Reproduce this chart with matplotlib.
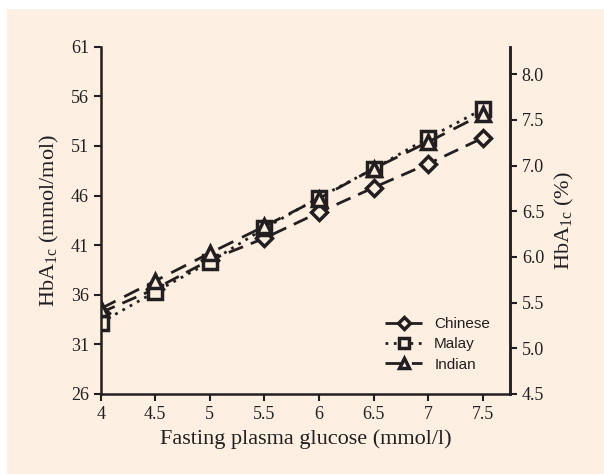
import numpy as np
import matplotlib.pyplot as plt
from matplotlib.patches import Rectangle

glucose = [4, 4.5, 5, 5.5, 6, 6.5, 7, 7.5]
chinese = [34.2, 36.6, 39.5, 41.7, 44.3, 46.8, 49.2, 51.8]
malay = [33.2, 36.3, 39.3, 42.7, 45.8, 48.7, 51.8, 54.7]
indian = [34.6, 37.4, 40.2, 42.9, 45.7, 48.7, 51.4, 54.2]
left_ticks = [26, 31, 36, 41, 46, 51, 56, 61]
right_ticks = [4.5, 5.0, 5.5, 6.0, 6.5, 7.0, 7.5, 8.0]

bg = '#fdf0e2'
ink = '#231f20'
serif = 'Liberation Serif'

fig = plt.figure(figsize=(6.04, 4.74), dpi=100, facecolor='white')
fig.patches.append(Rectangle((7/604, 0), 1, 1 - 9/474, transform=fig.transFigure,
                             facecolor=bg, edgecolor='none', zorder=-1))
ax = fig.add_axes([100.7/604, 1 - 394/474, (510-100.7)/604, (394-46.7)/474])
ax.set_facecolor('none')

common = dict(markeredgewidth=2.5, markerfacecolor=bg, markeredgecolor=ink, color=ink, lw=2)
ax.plot(glucose, chinese, marker='D', markersize=8, dashes=(5.5, 3), label='Chinese', **common)
ax.plot(glucose, malay, marker='s', markersize=10.5, dashes=(1, 2), label='Malay', **common)
ax.plot(glucose, indian, marker='^', markersize=9.5, dashes=(6, 3.5), label='Indian', **common)

ax.set_xlim(4, 7.75)
ax.set_ylim(26, 61)
ax.set_xticks(glucose)
ax.set_xticklabels(['4', '4.5', '5', '5.5', '6', '6.5', '7', '7.5'])
ax.set_yticks(left_ticks)
ax.spines['top'].set_visible(False)
for s in ['left', 'bottom', 'right']:
    ax.spines[s].set_linewidth(1.8)
    ax.spines[s].set_color(ink)
ax.tick_params(direction='out', length=5, width=1.5, color=ink, labelsize=13, labelcolor=ink)
for lab in ax.get_xticklabels() + ax.get_yticklabels():
    lab.set_family(serif)
ax.set_xlabel('Fasting plasma glucose (mmol/l)', family=serif, fontsize=16, color=ink, labelpad=5)
ax.set_ylabel('HbA$_{\\mathregular{1c}}$ (mmol/mol)', family=serif, fontsize=16, color=ink, labelpad=7)

ax2 = ax.twinx()
ax2.set_ylim(4.5, 8.30)
ax2.set_yticks(right_ticks)
ax2.set_yticklabels(['%.1f' % t for t in right_ticks])
for s in ['top', 'left', 'bottom']:
    ax2.spines[s].set_visible(False)
ax2.spines['right'].set_linewidth(1.8)
ax2.spines['right'].set_color(ink)
ax2.tick_params(direction='out', length=5, width=1.5, color=ink, labelsize=13, labelcolor=ink)
for lab in ax2.get_yticklabels():
    lab.set_family(serif)
ax2.set_ylabel('HbA$_{\\mathregular{1c}}$ (%)', family=serif, fontsize=16, color=ink, labelpad=6)

leg = ax.legend(loc='lower right', bbox_to_anchor=(0.985, 0.025), frameon=False,
                prop={'family': 'Liberation Sans', 'size': 11}, handlelength=2.4,
                labelspacing=0.4, handletextpad=0.8, labelcolor=ink, markerscale=0.75)

fig.savefig('out.png', dpi=100, facecolor=fig.get_facecolor())
